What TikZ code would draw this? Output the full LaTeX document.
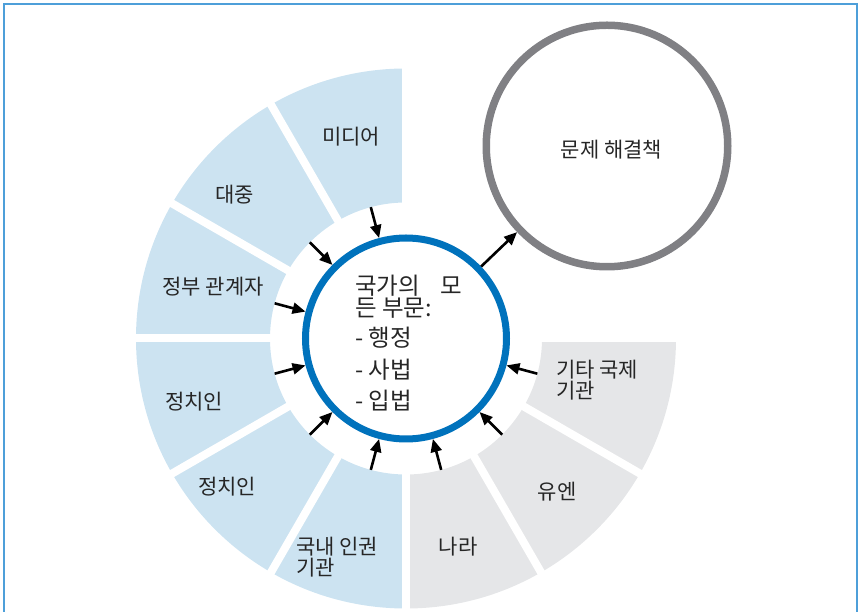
\documentclass[tikz,border=0pt]{standalone}
\usepackage{fontspec}
\newfontfamily\kr{Noto Sans CJK KR}
\usetikzlibrary{arrows.meta,calc}
\definecolor{secblue}{HTML}{CCE3F1}
\definecolor{secgray}{HTML}{E5E6E8}
\definecolor{ringblue}{HTML}{0072BC}
\definecolor{ringgray}{HTML}{808084}
\definecolor{framec}{HTML}{4D9FD9}
\definecolor{txt}{HTML}{262626}
\begin{document}
\begin{tikzpicture}[x=1pt,y=1pt,
  lab/.style={font=\kr\fontsize{21}{20.5}\selectfont, text=txt, inner sep=0pt},
  twolab/.style={lab, align=left, anchor=west},
  ctr/.style={font=\kr\fontsize{23.5}{23}\selectfont, text=txt, inner sep=0pt, anchor=base west},
  arr/.style={line width=2.6pt, -{Triangle[length=13pt,width=11pt]}, black},
  gapline/.style={white, line width=8pt},
  ring/.style={circle, inner sep=0pt}]
\useasboundingbox (-406,338.5) rectangle (453,-273.5);
\draw[framec, line width=1.5pt] (-402,334.5) rectangle (451,-300);
% sectors
\fill[secblue] (90:270) arc[start angle=90,end angle=270,radius=270] -- (270:136) arc[start angle=270,end angle=90,radius=136] -- cycle;
\fill[secgray] (270:270) arc[start angle=270,end angle=360,radius=270] -- (0:136) arc[start angle=360,end angle=270,radius=136] -- cycle;
\foreach \a in {0,90,120,150,180,210,240,270,300,330} \draw[gapline] (\a:130) -- (\a:280);
% circles
\node[ring, draw=ringblue, line width=7pt, minimum size=201pt] (c) at (0,0) {};
\node[ring, draw=ringgray, line width=7.5pt, minimum size=241.5pt] (sol) at (201,192.5) {};
\node[lab] (soltext) at (205.5,188.5) {문제 해결책};
% labels
\node[lab] (media) at (-55,201.5) {미디어};
\node[lab] (public) at (-171,143.5) {대중};
\node[lab] (gov) at (-193,51.5) {정부 관계자};
\node[lab] (pol1) at (-212,-63.5) {정치인};
\node[lab] (pol2) at (-179,-148.5) {정치인};
\node[twolab] (nhri) at (-110,-218.5) {국내 인권\\기관};
\node[lab] (nara) at (52,-208.5) {나라};
\node[lab] (un) at (151,-153.5) {유엔};
\node[twolab] (intl) at (150,-41.5) {기타 국제\\기관};
% centre text
\node[ctr] (t1) at (-51,43.5) {국가의\hspace{0.85em}모};
\node[ctr] (t2) at (-51,21.5) {든 부문:};
\node[ctr] (t3) at (-51,-8.5) {- 행정};
\node[ctr] (t4) at (-51,-40.5) {- 사법};
\node[ctr] (t5) at (-51,-71.5) {- 입법};
% arrows
\foreach \a in {105,135,165,195,225,255,285,315,345} {
  \coordinate (s\a) at (\a:136);
  \draw[arr] (s\a) -- (c.\a);
}
\draw[arr] (c) -- (sol);
\end{tikzpicture}
\end{document}
